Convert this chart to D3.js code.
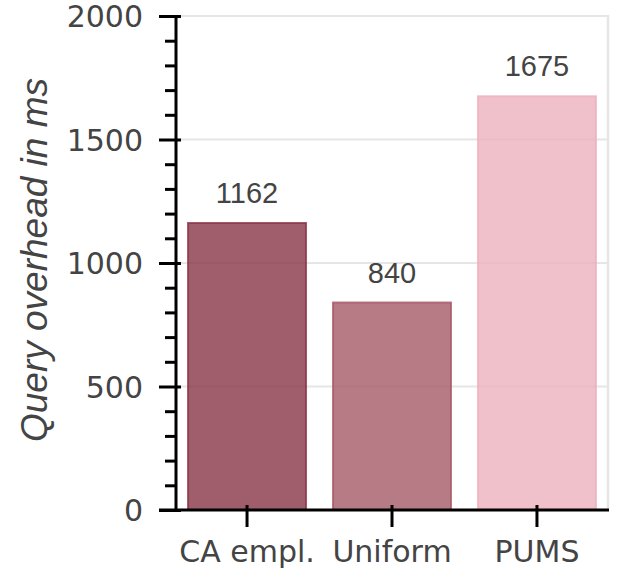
<!DOCTYPE html>
<html>
<head>
<meta charset="utf-8">
<script src="https://cdn.jsdelivr.net/npm/d3@7"></script>
<style>
  html, body { margin: 0; padding: 0; background: #fff; }
  svg { display: block; }
</style>
</head>
<body>
<script>
const categories = ["CA empl.", "Uniform", "PUMS"];
const values = [1162, 840, 1675];
const barColors = ["#883446", "#a55a67", "#ecb0be"];
const yMajorTicks = [0, 500, 1000, 1500, 2000];
const yMinorTicks = [100,200,300,400,600,700,800,900,1100,1200,1300,1400,1600,1700,1800,1900];
const yTitle = "Query overhead in ms";

(function () {
const W = 623, H = 577;
const pL = 176, pR = 608, pT = 16, pB = 510;

const svg = d3.select("body").append("svg").attr("width", W).attr("height", H);

const x = d3.scaleBand().domain(categories).range([pL, pR])
  .paddingInner(0.186).paddingOuter(0.083);
const y = d3.scaleLinear().domain([0, 2000]).range([pB, pT]);

// gridlines
svg.append("g").selectAll("line").data(yMajorTicks.filter(d => d > 0)).join("line")
  .attr("x1", pL).attr("x2", pR + 1)
  .attr("y1", d => y(d)).attr("y2", d => y(d))
  .attr("stroke", "#e6e6e6").attr("stroke-width", 2);
// right border
svg.append("line").attr("x1", pR).attr("x2", pR).attr("y1", pT - 1).attr("y2", pB)
  .attr("stroke", "#e6e6e6").attr("stroke-width", 2.5);

// bars
svg.append("g").selectAll("rect").data(categories).join("rect")
  .attr("x", d => x(d))
  .attr("width", x.bandwidth())
  .attr("y", (d, i) => y(values[i]))
  .attr("height", (d, i) => y(0) - y(values[i]))
  .attr("fill", (d, i) => barColors[i]).attr("fill-opacity", 0.8)
  .attr("stroke", (d, i) => barColors[i]).attr("stroke-opacity", 0.8).attr("stroke-width", 2);

// value labels
svg.append("g").selectAll("text").data(categories).join("text")
  .attr("x", d => x(d) + x.bandwidth() / 2)
  .attr("y", (d, i) => y(values[i]) - 20)
  .attr("text-anchor", "middle")
  .attr("font-family", "'Liberation Sans', Arial, sans-serif")
  .attr("font-size", 29).attr("fill", "#444")
  .text((d, i) => values[i]);

// y axis (major)
const yAxis = svg.append("g").attr("transform", `translate(${pL},0)`)
  .call(d3.axisLeft(y).tickValues(yMajorTicks).tickSize(17).tickPadding(16).tickFormat(d3.format("d")));
yAxis.select(".domain").remove();
yAxis.selectAll(".tick line").attr("x1", 5).attr("x2", -17).attr("stroke", "#000").attr("stroke-width", 3);
yAxis.selectAll(".tick text").attr("font-family", "'DejaVu Sans', Verdana, sans-serif")
  .attr("font-size", 30).attr("fill", "#444").attr("dy", "0.36em");

// y axis minor
const yMinor = svg.append("g").attr("transform", `translate(${pL},0)`)
  .call(d3.axisLeft(y).tickValues(yMinorTicks).tickSize(11).tickFormat(""));
yMinor.select(".domain").remove();
yMinor.selectAll(".tick line").attr("stroke", "#000").attr("stroke-width", 3);

// x axis
const xAxis = svg.append("g").attr("transform", `translate(0,${pB})`)
  .call(d3.axisBottom(x).tickSize(17).tickPadding(14));
xAxis.select(".domain").remove();
xAxis.selectAll(".tick line").attr("y1", -5).attr("y2", 17).attr("stroke", "#000").attr("stroke-width", 3);
xAxis.selectAll(".tick text").attr("font-family", "'DejaVu Sans', Verdana, sans-serif")
  .attr("font-size", 30).attr("fill", "#444").attr("y", 31);

// axis lines
svg.append("line").attr("x1", pL).attr("x2", pL).attr("y1", pT - 1).attr("y2", pB + 1.5)
  .attr("stroke", "#000").attr("stroke-width", 3);
svg.append("line").attr("x1", 159).attr("x2", pR + 1).attr("y1", pB).attr("y2", pB)
  .attr("stroke", "#000").attr("stroke-width", 3);

// y title
svg.append("text")
  .attr("transform", `translate(47,260) rotate(-90)`)
  .attr("text-anchor", "middle")
  .attr("font-family", "'Liberation Sans', Arial, sans-serif")
  .attr("font-style", "italic")
  .attr("font-size", 37).attr("fill", "#444")
  .text(yTitle);
})();
</script>
</body>
</html>
